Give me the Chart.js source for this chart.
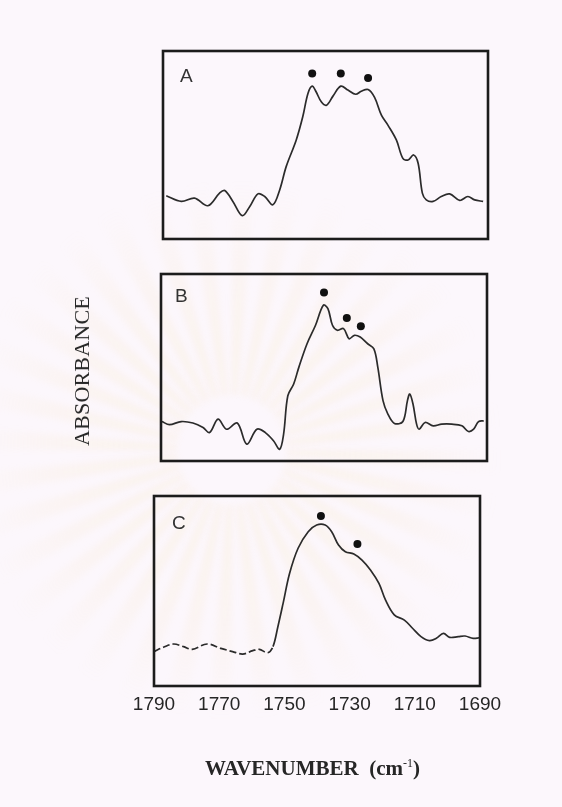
<!DOCTYPE html>
<html>
<head>
<meta charset="utf-8">
<script src="https://cdn.jsdelivr.net/npm/chart.js@4/dist/chart.umd.min.js"></script>
<style>
  html, body { margin: 0; padding: 0; }
  body { width: 562px; height: 807px; background: #fcf7fc; position: relative; overflow: hidden; }
  #emblem { position: absolute; left: 0; top: 0; }
  .panel { position: absolute; }
  #yTitle {
    position: absolute; left: 82px; top: 371px;
    transform: translate(-50%, -50%) rotate(-90deg);
    font-family: "Liberation Serif", "DejaVu Serif", serif; font-size: 22px; color: #262626;
    white-space: nowrap; letter-spacing: 0.2px;
  }
  #xTitle {
    position: absolute; left: 205px; top: 756px;
    font-family: "Liberation Serif", "DejaVu Serif", serif; font-size: 21px; font-weight: bold; color: #262626;
    white-space: nowrap;
  }
  #xTitle sup { font-size: 12px; font-weight: normal; }
</style>
</head>
<body>
<canvas id="emblem" width="562" height="807"></canvas>
<div class="panel" id="boxA" style="left:159px; top:47px; width:333px; height:196px;"><canvas id="chartA"></canvas></div>
<div class="panel" id="boxB" style="left:157px; top:270px; width:334px; height:195px;"><canvas id="chartB"></canvas></div>
<div class="panel" id="boxC" style="left:124px; top:492px; width:386px; height:228px;"><canvas id="chartC"></canvas></div>
<div id="yTitle">ABSORBANCE</div>
<div id="xTitle">WAVENUMBER&nbsp;&nbsp;(cm<sup>-1</sup>)</div>
<script>
// ---- Spectrum A ----
const wavenumberA = [1789, 1784.4, 1780.3, 1776.2, 1772.6, 1771.0, 1768.5, 1765.6, 1763.3, 1760.8, 1758.7, 1756.2,
  1754.1, 1752.1, 1749.0, 1747.0, 1745.4, 1744.1, 1742.9, 1741.3, 1739.7, 1737.7, 1735.3, 1733.1, 1730.7, 1729.0,
  1726.9, 1724.9, 1722.8, 1720.8, 1718.2, 1716.2, 1714.6, 1712.9, 1711.5, 1710.2, 1709.0, 1706.9, 1704.4, 1701.8,
  1698.7, 1696.2, 1694.1, 1691.5];
const absorbanceA = [23.0, 20.0, 21.7, 17.7, 24.4, 25.8, 20.0, 12.4, 17.3, 24.0, 22.6, 18.2,
  26.1, 38.5, 52.7, 65.0, 77.4, 81.3, 78.3, 73.0, 71.2, 76.0, 81.3, 79.2, 77.0, 78.6,
  79.5, 75.3, 65.9, 60.6, 52.7, 42.9, 42.0, 44.7, 40.3, 24.4, 20.8, 20.0, 22.6, 24.0,
  20.5, 22.6, 20.8, 20.0];
const peakWnA = [1744.1, 1735.3, 1726.9];
const peakAbsA = [88.0, 88.0, 85.7];

// ---- Spectrum B ----
const wavenumberB = [1789.7, 1787.4, 1783.8, 1780.2, 1777.1, 1775.1, 1772.5, 1769.9, 1766.6, 1763.7, 1760.6, 1758.0,
  1755.5, 1753.6, 1752.4, 1751.1, 1749.3, 1747.7, 1745.2, 1742.6, 1740.2, 1738.8, 1737.4, 1735.9, 1734.0, 1732.3,
  1730.7, 1728.9, 1726.6, 1724.7, 1723.5, 1721.9, 1720.4, 1718.4, 1715.8, 1714.4, 1713.7, 1712.7, 1711.6, 1710.8,
  1709.0, 1706.5, 1703.9, 1700.8, 1697.7, 1695.7, 1694.1, 1692.6, 1691.0];
const absorbanceB = [21.1, 19.4, 21.1, 20.3, 17.9, 15.2, 22.4, 17.0, 20.3, 9.0, 17.0, 15.2,
  10.8, 6.3, 14.3, 34.9, 41.2, 50.2, 62.7, 72.6, 83.3, 81.5, 72.6, 69.9, 70.8, 65.4,
  67.2, 66.3, 62.7, 60.0, 50.2, 32.3, 25.1, 20.1, 21.1, 32.3, 35.8, 30.5, 19.7, 17.0,
  20.6, 18.8, 19.7, 19.7, 18.8, 15.8, 17.0, 21.1, 21.5];
const peakWnB = [1740.0, 1733.0, 1728.7];
const peakAbsB = [90.1, 76.5, 72.0];

// ---- Spectrum C ----
const wavenumberC = [1790, 1787.1, 1784.0, 1780.9, 1778.3, 1773.7, 1769.5, 1765.9, 1762.8, 1759.7, 1757.7, 1755.1,
  1753.5, 1752.0, 1750.4, 1748.4, 1745.8, 1742.7, 1740.1, 1737.5, 1735.5, 1733.4, 1731.3, 1728.7, 1726.2, 1723.6,
  1721.0, 1719.0, 1716.3, 1713.2, 1710.7, 1708.1, 1705.5, 1703.4, 1701.2, 1699.3, 1696.7, 1694.6, 1692.1, 1690.2];
const absorbanceC = [18.1, 20.4, 22.1, 20.7, 19.3, 22.1, 19.8, 18.1, 16.8, 18.6, 19.3, 17.5,
  20.7, 31.2, 43.5, 59.3, 72.5, 81.2, 84.7, 84.7, 81.2, 74.2, 70.7, 69.5, 66.3, 61.1,
  54.0, 45.3, 37.4, 34.7, 30.4, 26.0, 23.9, 25.1, 27.7, 25.6, 26.0, 26.3, 25.1, 25.4];
const peakWnC = [1738.8, 1727.6];
const peakAbsC = [89.5, 74.7];

// ---- Axis ----
const wnMin = 1690, wnMax = 1790, wnStep = 20;
const tickLabels = ['1790', '1770', '1750', '1730', '1710', '1690'];

const INK = '#262626';

// faint sunburst emblem printed behind the figure
(function drawEmblem() {
  const c = document.getElementById('emblem').getContext('2d');
  const cx = 232, cy = 450, r0 = 55, r1 = 270, n = 36;
  c.filter = 'blur(3px)';
  for (let i = 0; i < n; i++) {
    const a0 = (i / n) * Math.PI * 2, a1 = a0 + (Math.PI * 2 / n) * 0.5;
    const g = c.createRadialGradient(cx, cy, r0, cx, cy, r1);
    g.addColorStop(0, 'rgba(246, 226, 170, 0.20)');
    g.addColorStop(0.6, 'rgba(246, 226, 170, 0.10)');
    g.addColorStop(1, 'rgba(246, 226, 170, 0)');
    c.fillStyle = g;
    c.beginPath();
    c.moveTo(cx + r0 * Math.cos(a0), cy + r0 * Math.sin(a0));
    c.lineTo(cx + r1 * Math.cos(a0), cy + r1 * Math.sin(a0));
    c.lineTo(cx + r1 * Math.cos(a1), cy + r1 * Math.sin(a1));
    c.lineTo(cx + r0 * Math.cos(a1), cy + r0 * Math.sin(a1));
    c.closePath();
    c.fill();
  }
})();

function toPoints(xs, ys) { return xs.map((x, i) => ({ x: x, y: ys[i] })); }

// frame round the plotting area plus the panel letter
const framePlugin = {
  id: 'frame',
  afterDatasetsDraw(chart, args, opts) {
    const { ctx, chartArea: a } = chart;
    ctx.save();
    ctx.strokeStyle = '#1c1c1c';
    ctx.lineWidth = 2.6;
    ctx.strokeRect(a.left, a.top, a.right - a.left, a.bottom - a.top);
    ctx.fillStyle = '#333';
    ctx.font = '19px "Liberation Sans", Arial, sans-serif';
    ctx.textBaseline = 'top';
    ctx.fillText(opts.letter, a.left + opts.dx, a.top + opts.dy);
    ctx.restore();
  }
};

function makePanel(id, xs, ys, pxs, pys, letter, dx, dy, showTicks, dashedAbove) {
  const xScale = {
    type: 'linear', min: wnMin, max: wnMax, reverse: true,
    display: showTicks,
    grid: { display: false, drawTicks: false },
    border: { display: false },
    ticks: {
      stepSize: wnStep, padding: 7, color: INK, maxRotation: 0,
      font: { family: '"Liberation Sans", Arial, sans-serif', size: 19 },
      callback: (v) => tickLabels.includes(String(v)) ? String(v) : ''
    }
  };
  if (showTicks) xScale.afterFit = (s) => { s.height = 30; };
  return new Chart(document.getElementById(id), {
    type: 'line',
    data: {
      datasets: [
        {
          data: toPoints(xs, ys), borderColor: '#2b2b2b', borderWidth: 1.7,
          pointRadius: 0, tension: 0.35, fill: false,
          segment: dashedAbove ? {
            borderDash: (ctx) => ctx.p0.parsed.x > dashedAbove ? [7, 3] : undefined
          } : undefined
        },
        {
          data: toPoints(pxs, pys), showLine: false, pointRadius: 4,
          pointBackgroundColor: '#111', pointBorderColor: '#111', pointBorderWidth: 0
        }
      ]
    },
    options: {
      responsive: true, maintainAspectRatio: false, animation: false,
      layout: { padding: showTicks ? { left: 30, right: 30, top: 4, bottom: 4 } : 4 },
      plugins: { legend: { display: false }, tooltip: { enabled: false },
        frame: { letter: letter, dx: dx, dy: dy } },
      scales: {
        x: xScale,
        y: { type: 'linear', min: 0, max: 100, display: false }
      }
    },
    plugins: [framePlugin]
  });
}

makePanel('chartA', wavenumberA, absorbanceA, peakWnA, peakAbsA, 'A', 17, 16, false, null);
makePanel('chartB', wavenumberB, absorbanceB, peakWnB, peakAbsB, 'B', 14, 13, false, null);
makePanel('chartC', wavenumberC, absorbanceC, peakWnC, peakAbsC, 'C', 18, 18, true, 1753.5);
</script>
</body>
</html>
